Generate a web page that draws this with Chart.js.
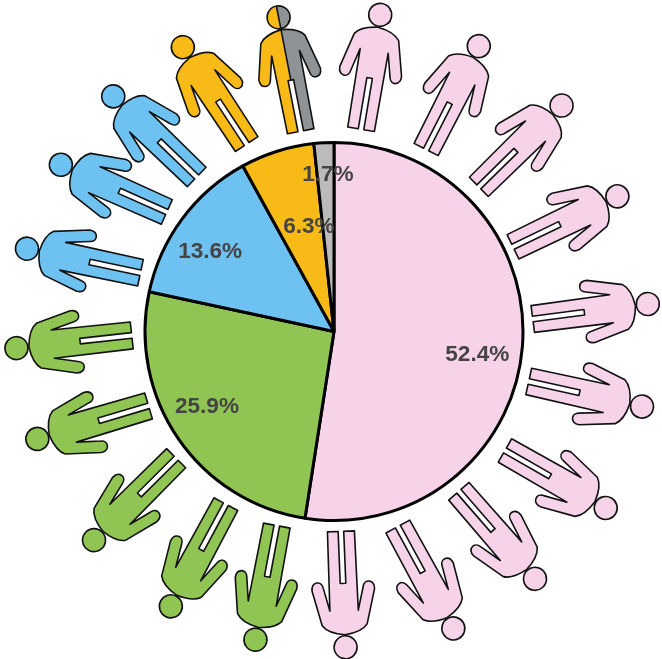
<!DOCTYPE html>
<html>
<head>
<meta charset="utf-8">
<style>
  html, body { margin: 0; padding: 0; background: #fff; }
  canvas { display: block; }
</style>
<script src="https://cdn.jsdelivr.net/npm/chart.js"></script>
</head>
<body>
<canvas id="pie" width="662" height="659"></canvas>
<script>
// slices, clockwise from 12 o'clock
const categories = ['pink', 'green', 'blue', 'yellow', 'gray'];
const shares = [52.4, 25.9, 13.6, 6.3, 1.7];
const sliceColors = ['#F6D3E8', '#90C553', '#6EC2F1', '#F7BA17', '#BBBBBB'];

// where each % label sits: degrees from top, and distance from the pie centre
const labelAngles = [98.7, 239.8, 303.2, 346.7, 357.8];
const labelDists = [145, 147, 148, 109, 158];

// the ring of 20 people, clockwise. how many belong to each slice, last one is half/half
const iconCounts = [10, 5, 3, 1];
const iconAngles = [8.3, 26.9, 45.2, 64.5, 85, 103.7, 123, 140.9, 158.1, 177.9, 194.3, 210.7, 229, 250.1, 267, 285.1, 301.4, 316.8, 332, 350];
const iconDists = [320, 320, 320.7, 314, 315, 317, 324, 318.7, 320, 316, 318, 319.6, 318, 315.5, 318, 318, 320, 322.5, 322, 319];
const iconTilts = [9.5, 27, 45.5, 64.2, 82.6, 102.5, 119.7, 139, 151.4, 177.7, 190.6, 208.3, 225.1, 253.5, 263.7, 282, 294, 314, 326.6, 349];
const halfLeft = '#F7BA17';
const halfRight = '#8F9396';

const rad = d => d * Math.PI / 180;

// body outline, head centre at 0,0 and feet pointing down
function bodyPath(ctx) {
  ctx.beginPath();
  ctx.moveTo(-2.8, 116);
  ctx.lineTo(-2.8, 64);
  ctx.lineTo(2.8, 64);
  ctx.lineTo(2.8, 116);
  ctx.lineTo(13.5, 116);
  ctx.lineTo(14.2, 36.6);
  ctx.lineTo(20, 60);
  ctx.bezierCurveTo(21.5, 68, 31.5, 67, 31.3, 57.5);
  ctx.lineTo(22.5, 22.5);
  ctx.quadraticCurveTo(17, 14.5, 0, 12.5);
  ctx.quadraticCurveTo(-17, 14.5, -22.5, 22.5);
  ctx.lineTo(-31.3, 57.5);
  ctx.bezierCurveTo(-31.5, 67, -21.5, 68, -20, 60);
  ctx.lineTo(-14.2, 36.6);
  ctx.lineTo(-13.5, 116);
  ctx.closePath();
}

function headPath(ctx) {
  ctx.beginPath();
  ctx.arc(0, 0, 11.5, 0, Math.PI * 2);
}

function drawIcon(ctx, color, right) {
  [bodyPath, headPath].forEach(shape => {
    if (right) {
      // half and half icon, split down the middle
      ctx.save();
      ctx.beginPath();
      ctx.rect(-40, -20, 40, 150);
      ctx.clip();
      shape(ctx);
      ctx.fillStyle = color;
      ctx.fill();
      ctx.restore();
      ctx.save();
      ctx.beginPath();
      ctx.rect(0, -20, 40, 150);
      ctx.clip();
      shape(ctx);
      ctx.fillStyle = right;
      ctx.fill();
      ctx.restore();
    } else {
      shape(ctx);
      ctx.fillStyle = color;
      ctx.fill();
    }
    shape(ctx);
    ctx.stroke();
  });
  if (right) {
    ctx.beginPath();
    ctx.moveTo(0, -11.5);
    ctx.lineTo(0, 11.5);
    ctx.moveTo(0, 12.5);
    ctx.lineTo(0, 64);
    ctx.stroke();
  }
}

const ringPlugin = {
  id: 'ring',
  afterDatasetsDraw(chart) {
    const ctx = chart.ctx;
    const arc = chart.getDatasetMeta(0).data[0];
    const cx = arc.x, cy = arc.y;

    // people
    let slice = 0, used = 0;
    iconAngles.forEach((a, i) => {
      while (used >= iconCounts[slice] && slice < iconCounts.length - 1) { slice++; used = 0; }
      used++;
      const isHalf = i === iconAngles.length - 1;
      ctx.save();
      ctx.translate(cx + Math.sin(rad(a)) * iconDists[i], cy - Math.cos(rad(a)) * iconDists[i]);
      ctx.rotate(rad(iconTilts[i]));
      ctx.strokeStyle = '#111111';
      ctx.lineWidth = 1.6;
      ctx.lineJoin = 'round';
      drawIcon(ctx, isHalf ? halfLeft : sliceColors[slice], isHalf ? halfRight : null);
      ctx.restore();
    });

    // % labels
    ctx.save();
    ctx.font = 'bold 22.6px "Liberation Sans", Arial, sans-serif';
    ctx.fillStyle = '#444444';
    ctx.textAlign = 'center';
    ctx.textBaseline = 'middle';
    shares.forEach((v, i) => {
      ctx.fillText(v.toFixed(1) + '%',
        cx + Math.sin(rad(labelAngles[i])) * labelDists[i],
        cy - Math.cos(rad(labelAngles[i])) * labelDists[i] + 1.5);
    });
    ctx.restore();
  }
};

new Chart(document.getElementById('pie'), {
  type: 'pie',
  plugins: [ringPlugin],
  data: {
    labels: categories,
    datasets: [{
      data: shares,
      backgroundColor: sliceColors,
      borderColor: '#000',
      borderWidth: 3,
      borderAlign: 'center'
    }]
  },
  options: {
    responsive: false,
    animation: false,
    layout: { padding: { left: 143, right: 137, top: 141, bottom: 137 } },
    plugins: {
      legend: { display: false },
      title: { display: false },
      tooltip: { enabled: false }
    }
  }
});
</script>
</body>
</html>
